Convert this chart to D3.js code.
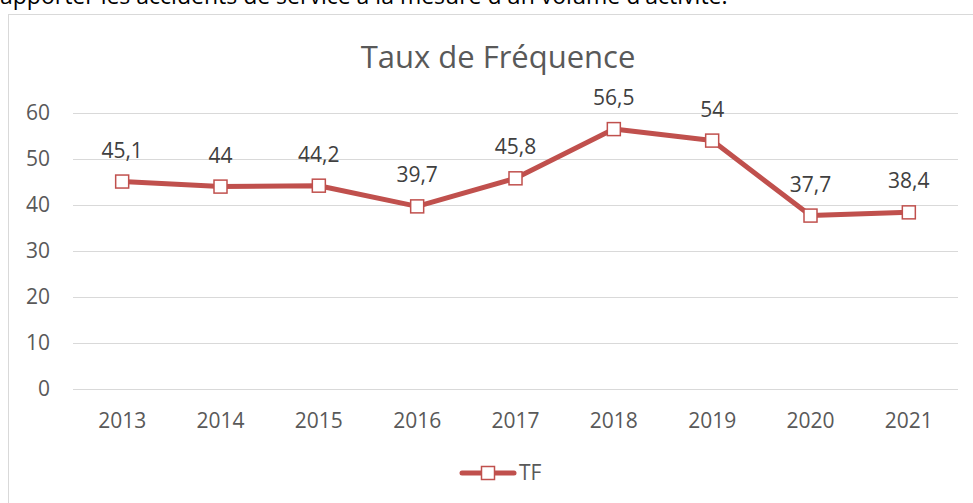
<!DOCTYPE html>
<html>
<head>
<meta charset="utf-8">
<script src="https://cdn.jsdelivr.net/npm/d3@7"></script>
<style>
  body { margin: 0; background: #fff; }
  svg { display: block; font-family: "Open Sans", sans-serif; }
</style>
</head>
<body>
<div id="chart"></div>
<script>
const years = ["2013", "2014", "2015", "2016", "2017", "2018", "2019", "2020", "2021"];
const tf = [45.1, 44, 44.2, 39.7, 45.8, 56.5, 54, 37.7, 38.4];
const yTicks = [0, 10, 20, 30, 40, 50, 60];

const width = 973;
const height = 503;
const margin = { top: 113, bottom: 114, left: 73, right: 15 };

const svg = d3.select('#chart')
    .append('svg')
    .attr('width', width)
    .attr('height', height);

// text of the page cut by the top of the screenshot
svg.append('text')
    .attr('x', 0)
    .attr('y', 4)
    .attr('font-size', 23)
    .attr('fill', '#000')
    .text("apporter les accidents de service à la mesure d'un volume d'activité.");

// chart area frame
svg.append('rect')
    .attr('x', 8.5)
    .attr('y', 14.5)
    .attr('width', 1000)
    .attr('height', 600)
    .attr('fill', '#fff')
    .attr('stroke', '#d9d9d9')
    .attr('stroke-width', 1);

const x = d3.scalePoint()
    .domain(years)
    .range([margin.left, width - margin.right])
    .padding(0.5);

const y = d3.scaleLinear()
    .domain([0, 60])
    .range([height - margin.bottom, margin.top]);

svg.append('text')
    .attr('x', 498)
    .attr('y', 68)
    .attr('text-anchor', 'middle')
    .attr('font-size', 31)
    .attr('fill', '#595959')
    .text('Taux de Fréquence');

// gridlines
svg.append('g')
    .attr('stroke', '#d9d9d9')
    .attr('stroke-width', 1)
    .selectAll('line')
    .data(yTicks)
    .join('line')
        .attr('x1', margin.left)
        .attr('x2', width - margin.right)
        .attr('y1', d => Math.round(y(d)) + 0.5)
        .attr('y2', d => Math.round(y(d)) + 0.5);

// y labels
svg.append('g')
    .attr('fill', '#595959')
    .attr('font-size', 21)
    .attr('text-anchor', 'end')
    .selectAll('text')
    .data(yTicks)
    .join('text')
        .attr('x', 50)
        .attr('y', d => y(d))
        .attr('dy', '0.35em')
        .text(d => d);

// x labels
svg.append('g')
    .attr('fill', '#595959')
    .attr('font-size', 21)
    .attr('text-anchor', 'middle')
    .selectAll('text')
    .data(years)
    .join('text')
        .attr('x', d => x(d))
        .attr('y', 428)
        .text(d => d);

const line = d3.line()
    .x((d, i) => x(years[i]))
    .y(d => y(d));

svg.append('path')
    .datum(tf)
    .attr('fill', 'none')
    .attr('stroke', '#c0504d')
    .attr('stroke-width', 5)
    .attr('stroke-linejoin', 'round')
    .attr('stroke-linecap', 'round')
    .attr('d', line);

svg.append('g')
    .selectAll('rect')
    .data(tf)
    .join('rect')
        .attr('x', (d, i) => x(years[i]) - 6.5)
        .attr('y', d => y(d) - 6.5)
        .attr('width', 13)
        .attr('height', 13)
        .attr('fill', '#fff')
        .attr('stroke', '#c0504d')
        .attr('stroke-width', 1.5);

// data labels
svg.append('g')
    .attr('fill', '#404040')
    .attr('font-size', 21)
    .attr('text-anchor', 'middle')
    .selectAll('text')
    .data(tf)
    .join('text')
        .attr('x', (d, i) => x(years[i]))
        .attr('y', d => y(d) - 24)
        .text(d => String(d).replace('.', ','));

// legend
const lg = svg.append('g');
lg.append('line')
    .attr('x1', 462).attr('x2', 514)
    .attr('y1', 473).attr('y2', 473)
    .attr('stroke', '#c0504d')
    .attr('stroke-width', 5)
    .attr('stroke-linecap', 'round');
lg.append('rect')
    .attr('x', 481.5).attr('y', 466.5)
    .attr('width', 13).attr('height', 13)
    .attr('fill', '#fff')
    .attr('stroke', '#c0504d')
    .attr('stroke-width', 1.5);
lg.append('text')
    .attr('x', 519)
    .attr('y', 473)
    .attr('dy', '0.35em')
    .attr('font-size', 21)
    .attr('fill', '#595959')
    .text('TF');
</script>
</body>
</html>
